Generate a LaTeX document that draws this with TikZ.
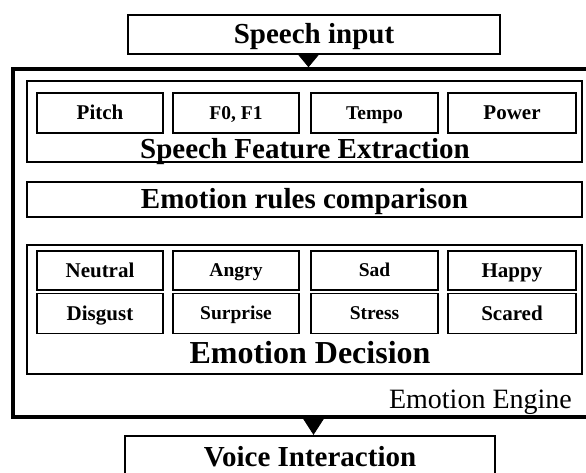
\documentclass[tikz,border=0pt]{standalone}
\usepackage{fontspec}
\setmainfont{Liberation Serif}
\usetikzlibrary{arrows.meta}
\begin{document}
\begin{tikzpicture}[x=1pt,y=-1pt,
  fsize/.style={font=\bfseries\fontsize{#1}{#1}\selectfont, text height=0.68*#1 pt, text depth=0.06*#1 pt},
  rsize/.style={font=\fontsize{#1}{#1}\selectfont, text height=0.68*#1 pt, text depth=0.06*#1 pt},
  mainbox/.style={draw, line width=2.2pt, rectangle, inner sep=0pt, fsize=29},
  engineframe/.style={draw, line width=3.5pt, rectangle, inner sep=0pt},
  frame/.style={draw, line width=2pt, rectangle, inner sep=0pt},
  title/.style={inner sep=0pt, fsize=29},
  cell/.style={draw, line width=1.8pt, rectangle, inner sep=0pt, minimum width=126pt, minimum height=40pt, fsize=21},
  cellsm/.style={cell, fsize=19.5},
  tip/.style={line width=0.8pt, -{Triangle[length=#1, width=23pt]}}
]
\useasboundingbox (0,0) rectangle (586,473);

% outer engine frame (right edge off the picture)
\node[engineframe, minimum width=587pt, minimum height=348pt] (engine) at (306.5,243) {};
\node[anchor=east, inner sep=0pt, rsize=28] (enginelabel) at (572,400) {Emotion Engine};

% input / output boxes
\node[mainbox, minimum width=372pt, minimum height=39pt] (speech) at (314,34.5) {Speech input};
\node[mainbox, minimum width=370pt, minimum height=44pt] (voice) at (310,458) {Voice Interaction};

% speech feature extraction
\node[frame, minimum width=555pt, minimum height=81pt] (sfe) at (304.5,121.5) {};
\node[title] (sfetitle) at (305,150) {Speech Feature Extraction};
\node[cell] (pitch) at (100,113) {Pitch};
\node[cellsm] (f0f1) at (236,113) {F0, F1};
\node[cellsm, minimum width=127pt] (tempo) at (374.5,113) {Tempo};
\node[cell, minimum width=128pt] (power) at (512,113) {Power};

% emotion rules comparison
\node[frame, minimum width=555pt, minimum height=35pt, fsize=29] (rules) at (304.5,199.5) {Emotion rules comparison};

% emotion decision
\node[frame, minimum width=555pt, minimum height=129pt] (decision) at (304.5,309.5) {};
\node[title, fsize=32] (dectitle) at (310,354) {Emotion Decision};
\node[cell, minimum height=39pt] (neutral) at (100,270.5) {Neutral};
\node[cellsm, minimum height=39pt] (angry) at (236,270.5) {Angry};
\node[cellsm, minimum height=39pt, minimum width=127pt] (sad) at (374.5,270.5) {Sad};
\node[cell, minimum height=39pt, minimum width=128pt] (happy) at (512,270.5) {Happy};
\node[cell] (disgust) at (100,313.5) {Disgust};
\node[cellsm] (surprise) at (236,313.5) {Surprise};
\node[cellsm, minimum width=127pt] (stress) at (374.5,313.5) {Stress};
\node[cell, minimum width=128pt] (scared) at (512,313.5) {Scared};

% connectors
\coordinate (ax1) at (308.5,0);
\coordinate (ax2) at (313.5,0);
\draw[tip=14pt] (ax1 |- speech.south) -- (ax1 |- engine.north);
\draw[tip=18pt] (ax2 |- engine.south) -- (ax2 |- voice.north);
\end{tikzpicture}
\end{document}
